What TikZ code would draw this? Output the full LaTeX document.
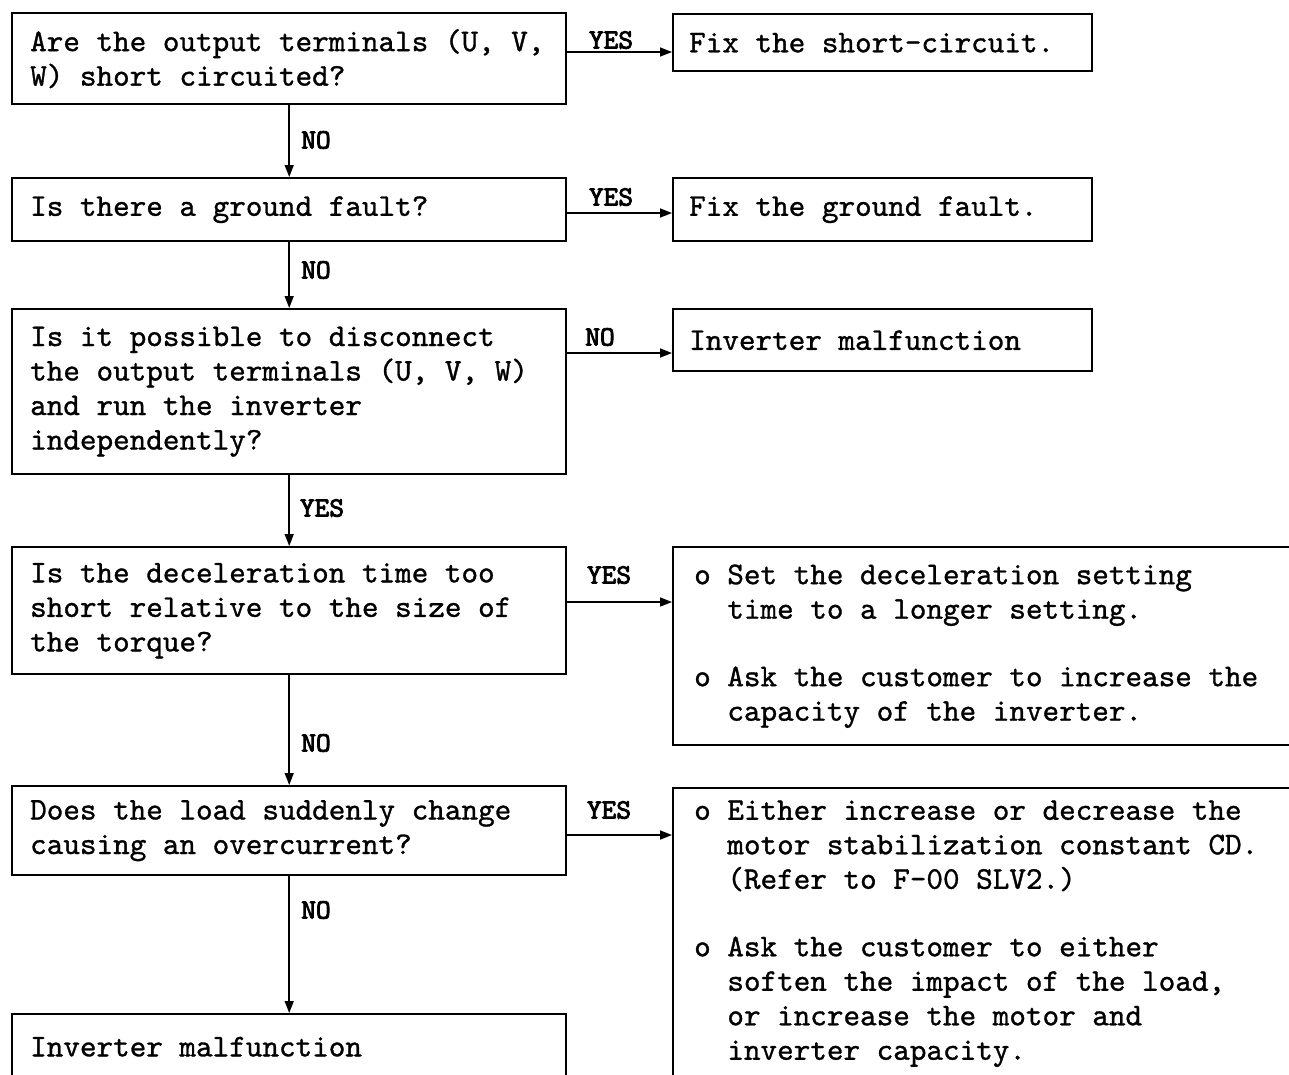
\documentclass[tikz,border=0pt]{standalone}
\usepackage{fontspec}
\newfontfamily\bodyfont{lmmono10-regular.otf}[FakeBold=1]
\newfontfamily\tagfont{lmmono10-regular.otf}[FakeBold=3]
\usetikzlibrary{arrows.meta}
\newcommand{\monospacing}{\frenchspacing\spaceskip=0.525em\relax\xspaceskip=0.525em\relax}
\begin{document}
\begin{tikzpicture}[x=1pt,y=-1pt,
  box/.style={draw, line width=2.4pt, rectangle, anchor=north west,
    inner ysep=0pt, align=left,
    font=\bodyfont\fontsize{31.6}{34.5}\selectfont,
    execute at begin node=\monospacing},
  lbox/.style={box, inner xsep=18pt, text width=518pt},
  rbox/.style={box, inner xsep=16pt, text width=387pt},
  wbox/.style={box, inner xsep=21pt, text width=600pt},
  conn/.style={line width=1.6pt, -{Triangle[length=12pt,width=9pt]}},
  tag/.style={font=\tagfont\fontsize{28}{30}\selectfont, inner sep=0pt}
]
\useasboundingbox (0,0) rectangle (1289,1074);
\clip (0,0) rectangle (1289,1074);
\newcommand{\ind}{\hspace*{1.05em}}

% question column
\node[lbox, minimum height=91pt] (b1) at (11,12)
  {Are the output terminals (U, V,\\W) short circuited?};
\node[lbox, minimum height=63pt] (b2) at (11,177)
  {Is there a ground fault?};
\node[lbox, minimum height=165pt] (b3) at (11,308)
  {Is it possible to disconnect\\the output terminals (U, V, W)\\and run the inverter\\independently?};
\node[lbox, minimum height=127pt] (b4) at (11,546)
  {Is the deceleration time too\\short relative to the size of\\the torque?};
\node[lbox, minimum height=89pt] (b5) at (11,785)
  {Does the load suddenly change\\causing an overcurrent?};
\node[lbox, minimum height=65pt] (b6) at (11,1013)
  {Inverter malfunction};

% remedy column
\node[rbox, minimum height=57pt] (r1) at (672,13)
  {Fix the short-circuit.};
\node[rbox, minimum height=63pt] (r2) at (672,177)
  {Fix the ground fault.};
\node[rbox, minimum height=62pt] (r3) at (672,308)
  {Inverter malfunction};
\node[wbox, minimum height=198pt] (r4) at (672,546)
  {o Set the deceleration setting\\\ind time to a longer setting.\\[33pt]
   o Ask the customer to increase the\\\ind capacity of the inverter.};
\node[wbox, minimum height=291pt] (r5) at (672,787)
  {o Either increase or decrease the\\\ind motor stabilization constant CD.\\\ind (Refer to F-00 SLV2.)\\[33pt]
   o Ask the customer to either\\\ind soften the impact of the load,\\\ind or increase the motor and\\\ind inverter capacity.};

% branch labels
\node[tag] (t1) at (611,40) {YES};
\node[tag] (t2) at (316,140) {NO};
\node[tag] (t3) at (611,197) {YES};
\node[tag] (t4) at (316,270) {NO};
\node[tag] (t5) at (600,337) {NO};
\node[tag] (t6) at (322,508) {YES};
\node[tag] (t7) at (609,575) {YES};
\node[tag] (t8) at (316,743) {NO};
\node[tag] (t9) at (609,810) {YES};
\node[tag] (t10) at (316,910) {NO};

% connectors
\draw[conn] (b1.south) -- (b2.north);
\draw[conn] (b2.south) -- (b3.north);
\draw[conn] (b3.south) -- (b4.north);
\draw[conn] (b4.south) -- (b5.north);
\draw[conn] (b5.south) -- (b6.north);
\draw[conn] (b1.east |- 0,52) -- (r1.west |- 0,52);
\draw[conn] (b2.east |- 0,213) -- (r2.west |- 0,213);
\draw[conn] (b3.east |- 0,353) -- (r3.west |- 0,353);
\draw[conn] (b4.east |- 0,602) -- (r4.west |- 0,602);
\draw[conn] (b5.east |- 0,835) -- (r5.west |- 0,835);
\end{tikzpicture}
\end{document}
